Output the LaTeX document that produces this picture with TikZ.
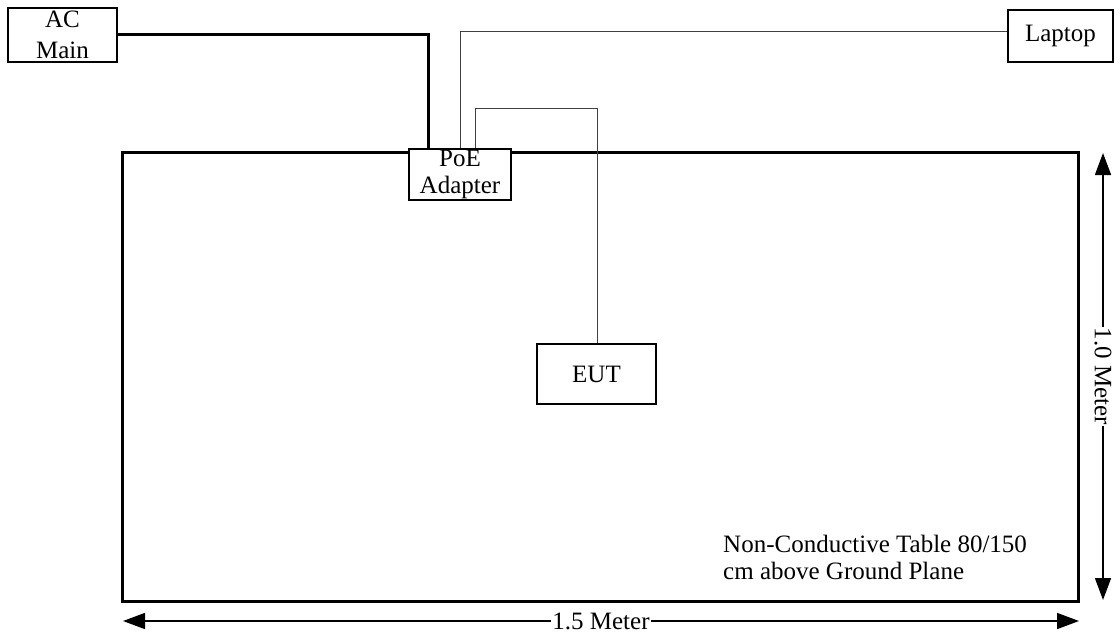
\documentclass[tikz,border=0pt]{standalone}
\usepackage{fontspec}
\setmainfont{Liberation Serif}
\usetikzlibrary{arrows.meta}
\begin{document}
\begin{tikzpicture}[x=1pt,y=-1pt,
  box/.style={draw=black,line width=1.5pt,fill=white,rectangle,inner sep=0pt,align=center,
    font=\fontsize{25}{27}\selectfont},
  thickwire/.style={line width=3pt},
  thinwire/.style={line width=1pt,draw=black!75},
  dim/.style={line width=1.5pt,{Triangle[length=22pt,width=16pt]}-{Triangle[length=22pt,width=16pt]}},
  lbl/.style={font=\fontsize{25}{27}\selectfont,fill=white,inner sep=1pt}]
\useasboundingbox (0,0) rectangle (1115,634);
% table
\draw[line width=3pt] (122,152) rectangle (1078,601);
% nodes
\node[box,minimum width=109pt,minimum height=54pt,font=\fontsize{25}{31}\selectfont] (ac) at (62.5,35) {AC\\Main};
\node[box,minimum width=105pt,minimum height=52pt] (lap) at (1060.5,36) {Laptop};
\coordinate (c1) at (428,35);
\coordinate (c2) at (460,32);
\coordinate (c3) at (475,108);
\coordinate (c4) at (597,108);
\draw[thickwire] (ac.east |- c1) -- (c1) -- (428,149);
\draw[thinwire] (lap.west |- c2) -- (c2) -- (460,149);
\draw[thinwire] (475,149) -- (c3) -- (c4) -- (597,344);
\node[box,minimum width=102pt,minimum height=51pt] (poe) at (460,174.5) {PoE\\Adapter};
\node[box,minimum width=119pt,minimum height=60pt] (eut) at (596.5,374) {EUT};
\node[anchor=north west,inner sep=0pt,align=left,font=\fontsize{25}{27}\selectfont] (note) at (723,535) {Non-Conductive Table 80/150\\cm above Ground Plane};
% dimensions
\coordinate (h1) at (123,621);
\coordinate (h2) at (1079,621);
\coordinate (v1) at (1103,153);
\coordinate (v2) at (1103,600);
\draw[dim] (h1) -- node[lbl] (wlbl) {1.5 Meter} (h2);
\draw[dim] (v1) -- node[lbl,rotate=-90] (hlbl) {1.0 Meter} (v2);
\end{tikzpicture}
\end{document}
